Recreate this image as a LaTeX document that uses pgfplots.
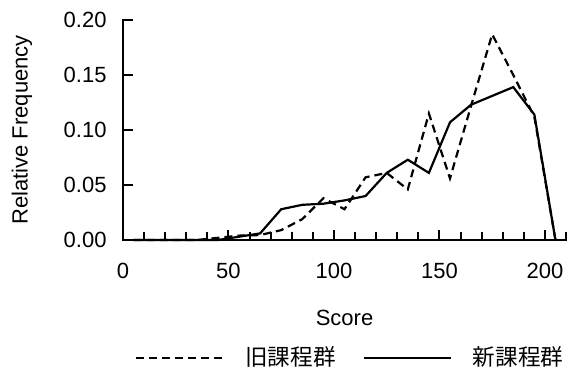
\documentclass[border=0pt]{standalone}
\usepackage{pgfplots}
\pgfplotsset{compat=1.18}
\usepackage{fontspec}
\setmainfont{Liberation Sans}
\newfontfamily\cjk{Noto Sans CJK JP}
\pgfplotstableread{
x y
5 0
15 0
25 0
35 0
45 0.002
55 0.004
65 0.0045
75 0.009
85 0.019
95 0.038
105 0.028
115 0.057
125 0.061
135 0.046
145 0.115
155 0.056
165 0.122
175 0.187
185 0.150
195 0.112
205 0
}\oldgroup
\pgfplotstableread{
x y
5 0
15 0
25 0
35 0
45 0
55 0.003
65 0.006
75 0.028
85 0.032
95 0.033
105 0.036
115 0.040
125 0.061
135 0.073
145 0.061
155 0.107
165 0.123
175 0.131
185 0.139
195 0.114
205 0
}\newgroup
\begin{document}
\begin{tikzpicture}
\begin{axis}[
  scale only axis,
  width=221.5pt, height=110pt,
  xmin=0, xmax=210, ymin=0, ymax=0.20,
  axis x line=bottom, axis y line=left,
  axis line style={-, line width=1pt, line cap=rect},
  tick align=inside,
  xtick={0,50,100,150,200},
  minor xtick={10,20,30,40,60,70,80,90,110,120,130,140,160,170,180,190,210},
  ytick={0,0.05,0.1,0.15,0.2},
  major tick length=5pt, minor tick length=4pt,
  every tick/.style={black, line width=1pt},
  font=\fontsize{11}{13}\selectfont,
  tick label style={font=\fontsize{11}{13}\selectfont},
  /pgf/number format/assume math mode=true,
  scaled y ticks=false,
  yticklabel style={/pgf/number format/fixed, /pgf/number format/fixed zerofill, /pgf/number format/precision=2, xshift=-4.7pt},
  xticklabel style={yshift=-8.1pt},
  xlabel={Score},
  ylabel={Relative Frequency},
  xlabel style={at={(axis description cs:0.5,-0.3545)}, anchor=center, font=\fontsize{11}{13}\selectfont},
  ylabel style={at={(axis description cs:-0.228,0.5)}, anchor=center, font=\fontsize{11}{13}\selectfont},
  clip=false,
  legend columns=2,
  legend style={draw=none, fill=none, at={(axis description cs:0.515,-0.536)}, anchor=center,
    font=\cjk\fontsize{11.3}{13}\selectfont, cells={anchor=west},
    /tikz/every even column/.append style={column sep=11.5pt},
    /tikz/every odd column/.append style={column sep=8.5pt}},
  legend image code/.code={\draw[#1] (0pt,0pt) -- (43.5pt,0pt);},
]
\addplot[black, line width=1.1pt, dash pattern=on 4pt off 2.5pt] table[x=x,y=y] {\oldgroup};
\addlegendentry{旧課程群}
\addplot[black, line width=1.1pt] table[x=x,y=y] {\newgroup};
\addlegendentry{新課程群}
\end{axis}
\pgfresetboundingbox
\path[use as bounding box] ([xshift=-61.5pt,yshift=-68pt]current axis.south west) rectangle ([xshift=4pt,yshift=10pt]current axis.north east);
\end{tikzpicture}
\end{document}
